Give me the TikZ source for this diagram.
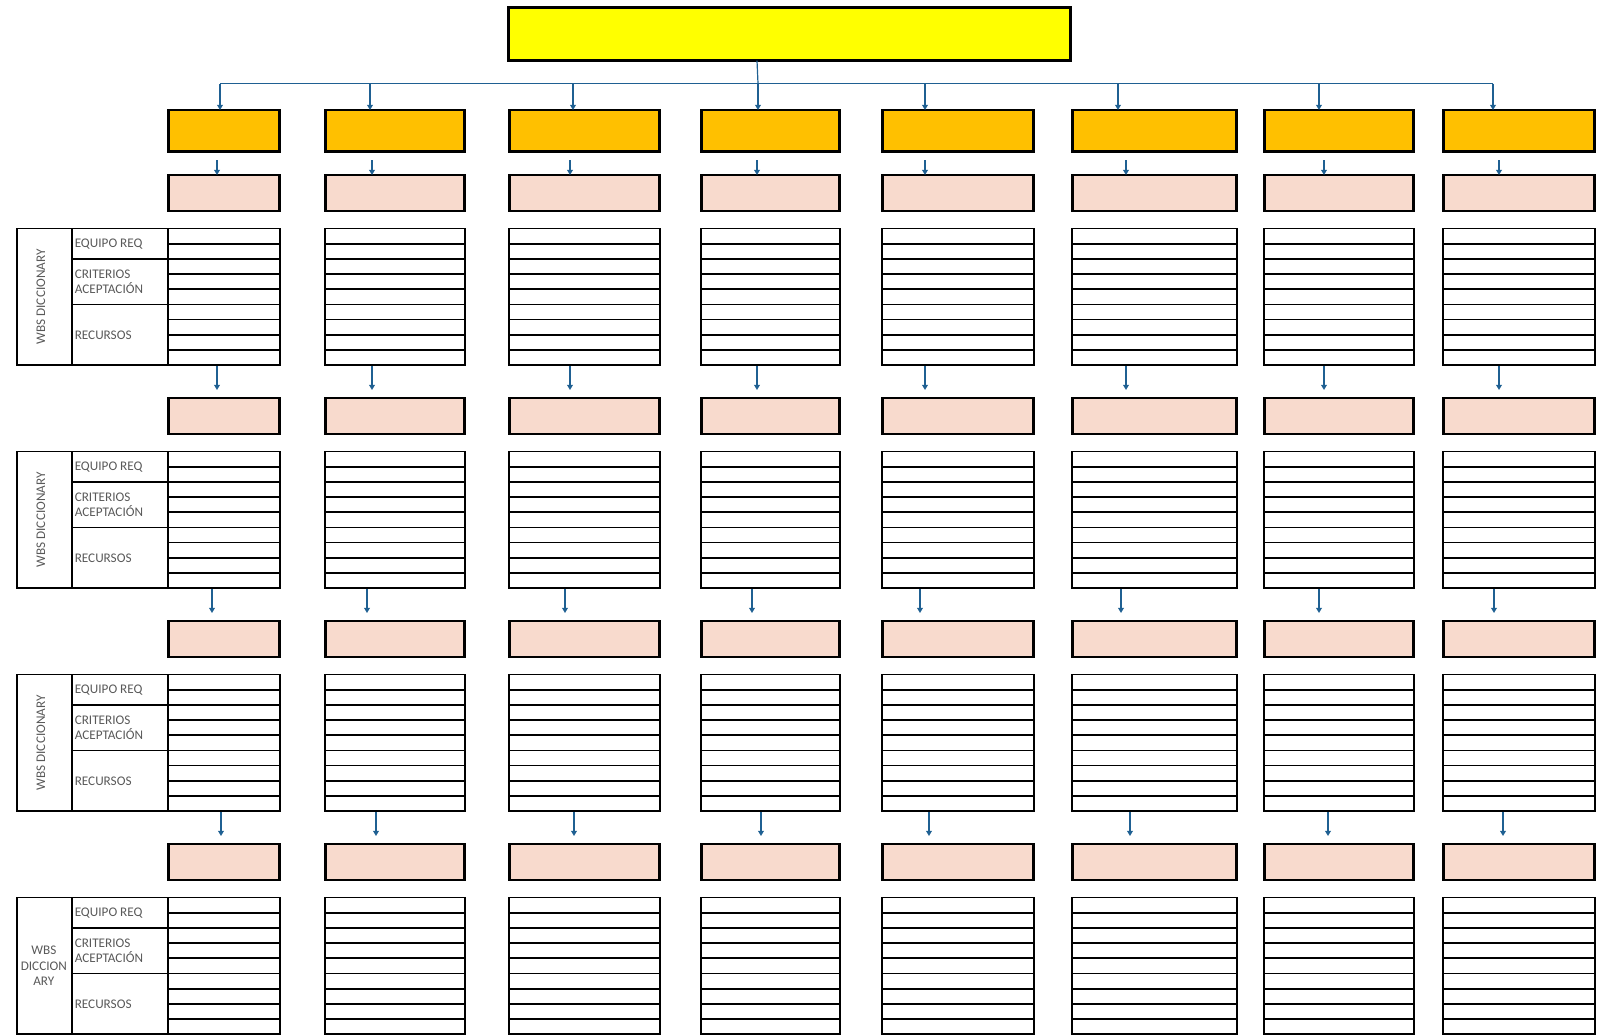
\documentclass[tikz,border=0pt]{standalone}
\usepackage{fontspec}
\setmainfont{Carlito}
\usetikzlibrary{arrows.meta, positioning, calc}
\definecolor{rootyellow}{RGB}{255,255,0}
\definecolor{phaseorange}{RGB}{255,192,0}
\definecolor{softpink}{RGB}{248,218,205}
\definecolor{linkblue}{RGB}{31,96,146}
\definecolor{labelgray}{RGB}{89,89,89}
\tikzset{
  wbsbox/.style={draw=black, line width=1.35pt, inner sep=0pt, outer sep=0pt},
  rootbox/.style={wbsbox, fill=rootyellow},
  phasebox/.style={wbsbox, fill=phaseorange},
  pinkbox/.style={wbsbox, fill=softpink},
  dictab/.style={draw=black, line width=0.85pt, inner sep=0pt, outer sep=0pt},
  tabline/.style={black, line width=0.85pt},
  link/.style={linkblue, line width=0.6pt},
  conn/.style={linkblue, line width=0.8pt, -{Triangle[length=2.6pt, width=2.9pt]}},
  lbl/.style={text=labelgray, font=\fontsize{6.6}{7.6}\selectfont, inner sep=0pt},
}

\begin{document}
\begin{tikzpicture}[x=0.5pt, y=-0.5pt]
  \useasboundingbox (0,0) rectangle (1606,1035);
  % top of the WBS
  \node[rootbox, minimum width=281.2pt, minimum height=26.7pt] (root) at (789.5,34) {};
  \coordinate (stem) at (757,0);
  % columns: number / left / right / bus arrow x / arrow x
  \foreach \i/\lx/\rx/\bx/\ax in {1/167/281/220/217, 2/324/466/370/372,
      3/508/661/573/570, 4/700/841/758/757, 5/881/1035/925/925,
      6/1071/1238/1118/1126, 7/1263/1415/1319/1324, 8/1442/1596/1493/1499} {
    % level one
    \node[phasebox, minimum width={(\rx-\lx-2.7)*0.5pt}, minimum height=20.8pt]
      (ph\i) at ({(\lx+\rx)/2},130.8) {};
    \coordinate (bus\i) at (\bx,83.5);
    \draw[conn] (bus\i) -- (ph\i.north -| bus\i);
    % work packages with their dictionary tables
    \foreach \r in {1,...,4} {
      \pgfmathsetmacro\sh{{0,0,-5,4}[\r-1]}
      \pgfmathtruncatemacro\q{\r-1}
      \coordinate (ax\r-\i) at (\ax+\sh,0);
      \node[pinkbox, minimum width={(\rx-\lx-2.7)*0.5pt}, minimum height=18pt]
        (wp\r-\i) at ({(\lx+\rx)/2},{193+223*(\r-1)}) {};
      \node[dictab, minimum width={(\rx-\lx-1.7)*0.5pt}, minimum height=68.35pt]
        (dict\r-\i) at ({(\lx+\rx)/2},{296.85+223*(\r-1)}) {};
      \foreach \k in {1,...,8}
        \draw[tabline] ($(dict\r-\i.north west)!\k/9!(dict\r-\i.south west)$)
          -- ($(dict\r-\i.north east)!\k/9!(dict\r-\i.south east)$);
      \ifnum\r=1
        \draw[conn, shorten <=4.2pt] (ph\i.south -| ax\r-\i) -- (wp\r-\i.north -| ax\r-\i);
      \else
        \draw[conn, shorten <=0.6pt, shorten >=4pt] (dict\q-\i.south -| ax\r-\i)
          -- (wp\r-\i.north -| ax\r-\i);
      \fi
    }
  }
  % bus from the root
  \draw[link] (root.south -| stem) -- (bus4);
  \draw[link] (bus1) -- (bus8);
  % WBS dictionary labels on the left
  \foreach \r in {1,...,4} {
    \draw[tabline] (dict\r-1.north west) -- ++(-151,0) |- (dict\r-1.south west);
    \draw[tabline] (dict\r-1.north west) ++(-96,0) -- ++(0,136.7);
    \draw[tabline] ($(dict\r-1.north west)!2/9!(dict\r-1.south west)$) -- ++(-96,0);
    \draw[tabline] ($(dict\r-1.north west)!5/9!(dict\r-1.south west)$) -- ++(-96,0);
    \node[lbl, anchor=west] (equipo\r)
      at ($(dict\r-1.north west)!1/9!(dict\r-1.south west) + (-93.5,0)$) {EQUIPO REQ};
    \node[lbl, anchor=west, align=left] (criterios\r)
      at ($(dict\r-1.north west)!3.5/9!(dict\r-1.south west) + (-93.5,0)$) {CRITERIOS\\ACEPTACIÓN};
    \node[lbl, anchor=west] (recursos\r)
      at ($(dict\r-1.north west)!7/9!(dict\r-1.south west) + (-93.5,0)$) {RECURSOS};
  }
  \foreach \r in {1,2,3}
    \node[lbl, rotate=90] (wbs\r) at ($(dict\r-1.west) + (-127,0)$) {WBS DICCIONARY};
  \node[lbl, align=center, font=\fontsize{6.6}{7.8}\selectfont] (wbs4)
    at ($(dict4-1.west) + (-124,0)$) {WBS\\DICCION\\ARY};
\end{tikzpicture}
\end{document}
